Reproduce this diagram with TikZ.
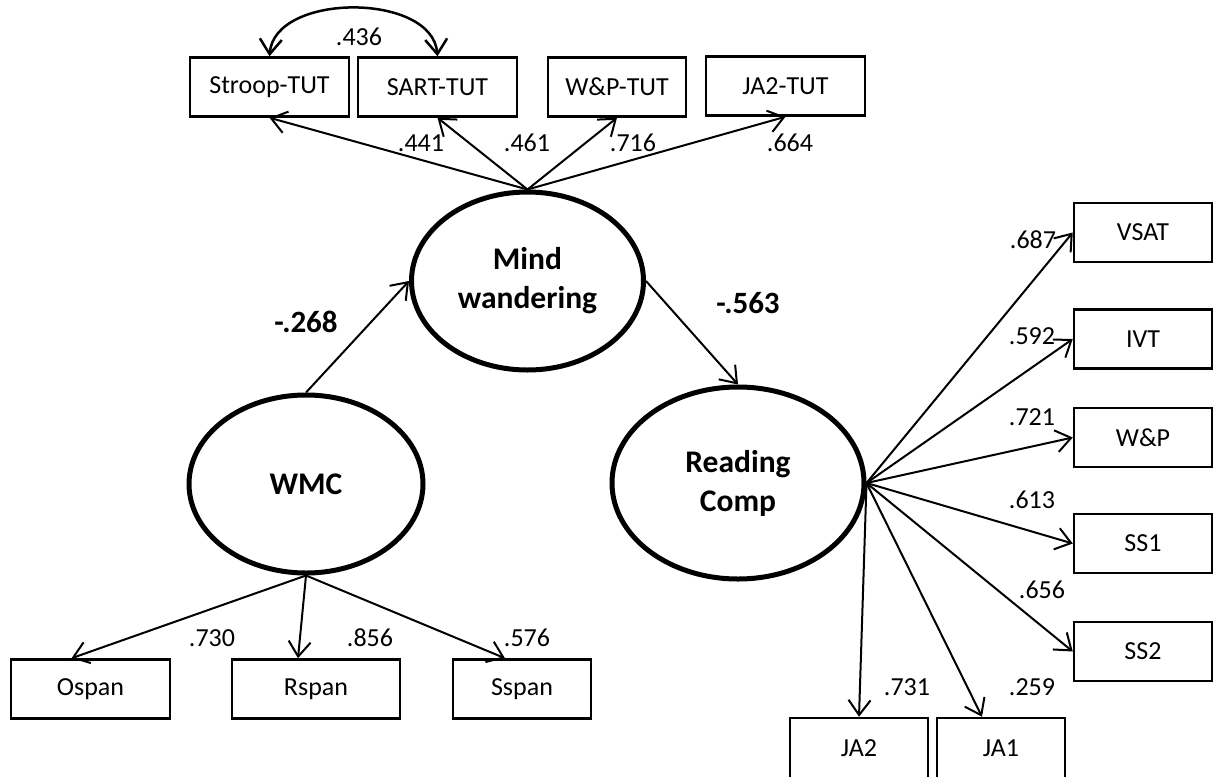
\documentclass[tikz,border=0pt]{standalone}
\usepackage{fontspec}
\setmainfont{Carlito}
\usetikzlibrary{arrows.meta,shapes.geometric}

\begin{document}
\begin{tikzpicture}[x=1pt,y=-1pt,
  obs/.style={draw, line width=2.5pt, rectangle, minimum height=59pt, inner sep=0pt, font=\fontsize{26}{30}\selectfont},
  latent/.style={draw, line width=5pt, ellipse, inner sep=0pt, align=center, font=\bfseries\fontsize{31.5}{39}\selectfont},
  coef/.style={inner sep=0pt, font=\fontsize{26}{30}\selectfont},
  bcoef/.style={inner sep=0pt, font=\bfseries\fontsize{31}{36}\selectfont},
  load/.style={line width=2pt, -{Straight Barb[length=15pt,width=22pt,line width=2pt]}}]
\useasboundingbox (0,0) rectangle (1220,776);
\clip (0,0) rectangle (1220,776);
\node[latent, minimum width=232pt, minimum height=178pt] (mind) at (527.5,281) {Mind\\wandering};
\node[latent, minimum width=234pt, minimum height=178pt] (wmc) at (306,484) {WMC};
\node[latent, minimum width=252pt, minimum height=192pt] (read) at (738,483) {Reading\\Comp};
\node[obs, minimum width=159pt] (stroop) at (269.5,87) {Stroop-TUT};
\node[obs, minimum width=159pt] (sart) at (437.5,87) {SART-TUT};
\node[obs, minimum width=138pt] (wptut) at (617,87) {W\&P-TUT};
\node[obs, minimum width=159pt] (jatut) at (785.5,86) {JA2-TUT};
\node[obs, minimum width=138pt] (vsat) at (1143,232.5) {VSAT};
\node[obs, minimum width=138pt] (ivt) at (1143,339) {IVT};
\node[obs, minimum width=138pt] (wp) at (1143,437.5) {W\&P};
\node[obs, minimum width=138pt] (ss1) at (1143,543.5) {SS1};
\node[obs, minimum width=138pt] (ss2) at (1143,651.5) {SS2};
\node[obs, minimum width=138pt, minimum height=60pt] (ja2) at (859,748) {JA2};
\node[obs, minimum width=128pt, minimum height=60pt] (ja1) at (1001,748) {JA1};
\node[obs, minimum width=159pt] (ospan) at (90.5,689) {Ospan};
\node[obs, minimum width=168pt] (rspan) at (316,689) {Rspan};
\node[obs, minimum width=138pt] (sspan) at (522,689) {Sspan};
\draw[line width=2.5pt, {Straight Barb[length=15pt,width=22pt,line width=2.5pt]}-{Straight Barb[length=15pt,width=22pt,line width=2.5pt]}] (stroop.north) .. controls +(5,-64) and +(-5,-64) .. (sart.north);
\draw[load] (mind.north) -- (stroop.south);
\draw[load] (mind.north) -- (sart.south);
\draw[load] (mind.north) -- (wptut.south);
\draw[load] (mind.north) -- (jatut.south);
\draw[load] (wmc.north) -- (mind.west);
\draw[load] (mind.east) -- (read.north);
\draw[load] (wmc.south) -- ([xshift=-19pt]ospan.north);
\draw[load] (wmc.south) -- ([xshift=-18pt]rspan.north);
\draw[load] (wmc.south) -- ([xshift=-17pt]sspan.north);
\draw[load] (read.east) -- (vsat.west);
\draw[load] (read.east) -- (ivt.west);
\draw[load] (read.east) -- (wp.west);
\draw[load] (read.east) -- (ss1.west);
\draw[load] (read.east) -- (ss2.west);
\draw[load] (read.east) -- (ja2.north);
\draw[load] (read.east) -- ([xshift=-19pt]ja1.north);
\node[coef] (c436) at (359,37) {.436};
\node[coef] (c441) at (421,143) {.441};
\node[coef] (c461) at (527,143) {.461};
\node[coef] (c716) at (633,143) {.716};
\node[coef] (c664) at (790,143) {.664};
\node[bcoef] (c268) at (306,322) {-.268};
\node[bcoef] (c563) at (748,303) {-.563};
\node[coef] (c730) at (212,638) {.730};
\node[coef] (c856) at (370,638) {.856};
\node[coef] (c576) at (527,638) {.576};
\node[coef] (c687) at (1033,240) {.687};
\node[coef] (c592) at (1032,336) {.592};
\node[coef] (c721) at (1032,417) {.721};
\node[coef] (c613) at (1032,500) {.613};
\node[coef] (c656) at (1042,590) {.656};
\node[coef] (c731) at (907,687) {.731};
\node[coef] (c259) at (1032,687) {.259};
\end{tikzpicture}
\end{document}
